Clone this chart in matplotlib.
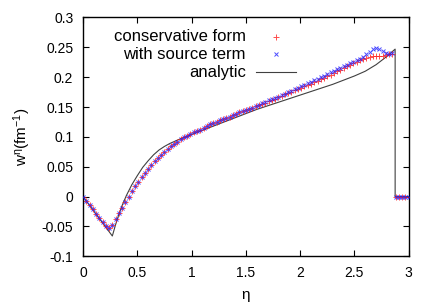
import numpy as np
import matplotlib
matplotlib.use("Agg")
import matplotlib.pyplot as plt

plt.rcParams['font.family'] = ['Liberation Sans', 'DejaVu Sans']
plt.rcParams['mathtext.fontset'] = 'custom'
plt.rcParams['mathtext.rm'] = 'Liberation Sans'
plt.rcParams['mathtext.it'] = 'Liberation Sans'

# Data
eta = np.round(np.arange(0, 3.001, 0.03), 2)

w_cons = [0.000, -0.007, -0.014, -0.021, -0.029, -0.036, -0.043, -0.050, -0.053, -0.047,
          -0.038, -0.028, -0.019, -0.009, 0.000, 0.009, 0.017, 0.025, 0.033, 0.040,
          0.047, 0.053, 0.059, 0.065, 0.070, 0.075, 0.080, 0.084, 0.088, 0.092,
          0.096, 0.099, 0.102, 0.105, 0.108, 0.110, 0.112, 0.115, 0.118, 0.121,
          0.123, 0.125, 0.128, 0.130, 0.132, 0.134, 0.136, 0.139, 0.141, 0.143,
          0.145, 0.147, 0.149, 0.151, 0.153, 0.155, 0.157, 0.160, 0.162, 0.164,
          0.166, 0.168, 0.171, 0.173, 0.175, 0.178, 0.180, 0.182, 0.185, 0.187,
          0.189, 0.192, 0.194, 0.197, 0.199, 0.202, 0.204, 0.207, 0.210, 0.212,
          0.215, 0.218, 0.220, 0.223, 0.226, 0.228, 0.230, 0.232, 0.234, 0.235,
          0.236, 0.236, 0.236, 0.237, 0.238, 0.239, 0.000, 0.000, 0.000, 0.000,
          0.000]

w_src = [0.000, -0.007, -0.014, -0.021, -0.029, -0.036, -0.043, -0.050, -0.053, -0.047,
         -0.038, -0.028, -0.019, -0.009, 0.000, 0.009, 0.017, 0.025, 0.033, 0.040,
         0.047, 0.053, 0.059, 0.065, 0.070, 0.075, 0.080, 0.084, 0.088, 0.092,
         0.096, 0.099, 0.102, 0.105, 0.108, 0.110, 0.112, 0.115, 0.118, 0.121,
         0.123, 0.125, 0.128, 0.130, 0.132, 0.134, 0.136, 0.139, 0.141, 0.143,
         0.145, 0.147, 0.149, 0.151, 0.154, 0.156, 0.158, 0.161, 0.163, 0.165,
         0.167, 0.170, 0.172, 0.175, 0.177, 0.180, 0.182, 0.185, 0.187, 0.190,
         0.192, 0.195, 0.197, 0.200, 0.202, 0.205, 0.208, 0.210, 0.213, 0.216,
         0.218, 0.221, 0.224, 0.226, 0.229, 0.231, 0.234, 0.238, 0.243, 0.247,
         0.249, 0.248, 0.244, 0.240, 0.238, 0.240, 0.000, 0.000, 0.000, 0.000,
         0.000]

eta_an = [0.0, 0.27, 0.30, 0.33, 0.36, 0.40, 0.45, 0.50, 0.55, 0.60, 0.65, 0.70, 0.75,
          0.80, 0.85, 0.90, 0.95, 1.00, 1.10, 1.20, 1.30, 1.40, 1.50, 1.60, 1.70,
          1.80, 1.90, 2.00, 2.10, 2.20, 2.30, 2.40, 2.50, 2.60, 2.70, 2.80, 2.875,
          2.875, 3.0]
w_an = [0.000, -0.066, -0.047, -0.030, -0.015, 0.002, 0.020, 0.035, 0.049, 0.060,
        0.070, 0.078, 0.084, 0.089, 0.093, 0.097, 0.100, 0.104, 0.111, 0.118, 0.125,
        0.132, 0.139, 0.146, 0.152, 0.158, 0.164, 0.170, 0.176, 0.182, 0.188, 0.195,
        0.202, 0.210, 0.221, 0.235, 0.247, 0.000, 0.000]

labels = ["conservative form", "with source term", "analytic"]

fig = plt.figure(figsize=(4.36, 3.05), dpi=100)
ax = fig.add_axes([0.1904, 0.1597, 0.747, 0.783])

ax.plot(eta_an, w_an, color='#404040', lw=0.8, zorder=1)
ax.plot(eta, w_cons, ls='none', marker='+', ms=4.5, mew=0.7, color='#ff2020', alpha=0.8, zorder=2)
ax.plot(eta, w_src, ls='none', marker='x', ms=3.5, mew=0.7, color='#2020ff', alpha=0.8, zorder=3)

ax.set_xlim(0, 3)
ax.set_ylim(-0.1, 0.3)
ax.set_xticks([0, 0.5, 1, 1.5, 2, 2.5, 3])
ax.set_xticklabels(['0', '0.5', '1', '1.5', '2', '2.5', '3'])
ax.set_yticks([-0.1, -0.05, 0, 0.05, 0.1, 0.15, 0.2, 0.25, 0.3])
ax.set_yticklabels(['-0.1', '-0.05', '0', '0.05', '0.1', '0.15', '0.2', '0.25', '0.3'])
ax.tick_params(direction='in', top=True, right=True, length=4, width=0.8,
               labelsize=10, pad=7)
for s in ax.spines.values():
    s.set_linewidth(1.0)

ax.set_xlabel('η', fontsize=11, labelpad=6)
ax.set_ylabel(r'w$^{\mathregular{η}}$(fm$^{-1}$)', fontsize=11, labelpad=6)

# gnuplot-style key: text right aligned, symbol to the right
key_y = [0.92, 0.845, 0.77]
tx = 0.50
sx = 0.593
for k in range(3):
    ax.text(tx, key_y[k], labels[k], transform=ax.transAxes, ha='right', va='center', fontsize=12)
ax.plot([sx], [key_y[0]], transform=ax.transAxes, marker='+', ms=4.5, mew=0.7, color='#ff2020', alpha=0.8)
ax.plot([sx], [key_y[1]], transform=ax.transAxes, marker='x', ms=3.5, mew=0.7, color='#2020ff', alpha=0.8)
ax.plot([sx - 0.062, sx + 0.062], [key_y[2], key_y[2]], transform=ax.transAxes, color='#404040', lw=0.8)

fig.savefig('out.png', dpi=100)
